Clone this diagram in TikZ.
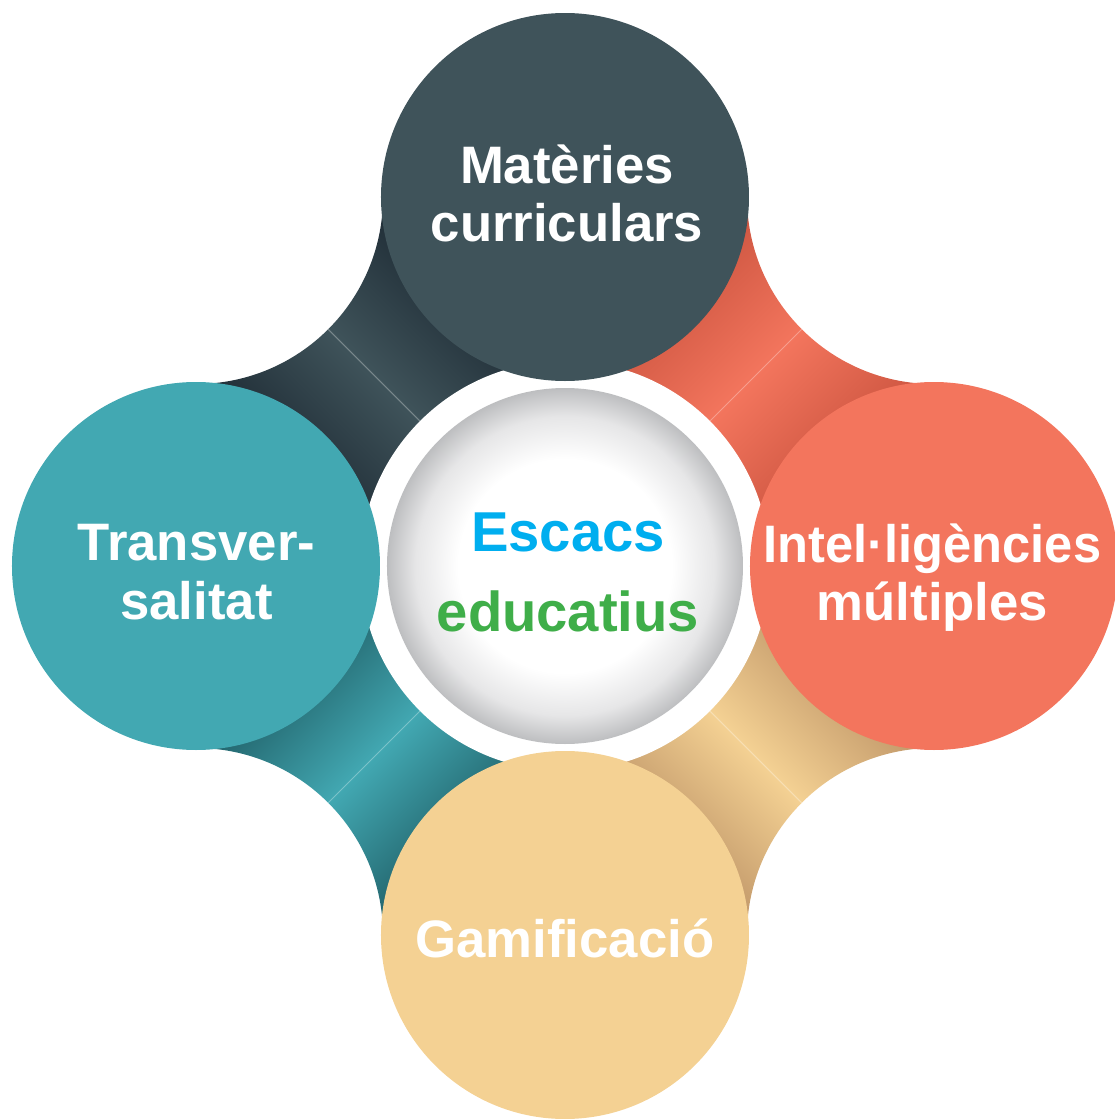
\documentclass[tikz,border=0pt]{standalone}
\usepackage{fontspec}
\setmainfont{Liberation Sans}
\usepackage{xcolor}
\usepackage{graphicx}
\usepackage{tikz}
\usetikzlibrary{calc}
\definecolor{matslate}{HTML}{3F535A}
\definecolor{matdark}{HTML}{223039}
\definecolor{intcoral}{HTML}{F3755D}
\definecolor{intdark}{HTML}{D05843}
\definecolor{gamsand}{HTML}{F4D193}
\definecolor{gamdark}{HTML}{C49B6C}
\definecolor{trateal}{HTML}{42A8B2}
\definecolor{tradark}{HTML}{24676F}
\definecolor{escblue}{HTML}{00AEEF}
\definecolor{escgreen}{HTML}{3FAE49}
\definecolor{ballgrey}{HTML}{BDBEC0}
\definecolor{ballmist}{HTML}{E6E6E7}

\pgfdeclarehorizontalshading{matfold}{100bp}{color(0bp)=(matdark); color(34bp)=(matdark); color(50bp)=(matslate); color(66bp)=(matdark); color(100bp)=(matdark)}
\pgfdeclarehorizontalshading{intfold}{100bp}{color(0bp)=(intdark); color(34bp)=(intdark); color(50bp)=(intcoral); color(66bp)=(intdark); color(100bp)=(intdark)}
\pgfdeclarehorizontalshading{gamfold}{100bp}{color(0bp)=(gamdark); color(34bp)=(gamdark); color(50bp)=(gamsand); color(66bp)=(gamdark); color(100bp)=(gamdark)}
\pgfdeclarehorizontalshading{trafold}{100bp}{color(0bp)=(tradark); color(34bp)=(tradark); color(50bp)=(trateal); color(66bp)=(tradark); color(100bp)=(tradark)}
\pgfdeclareradialshading{ballshade}{\pgfpoint{0bp}{0bp}}{color(0bp)=(white); color(15bp)=(white); color(21bp)=(ballmist); color(25bp)=(ballgrey); color(50bp)=(ballgrey)}

\begin{document}
\begin{tikzpicture}[font=\bfseries]
  \def\d{3.69}
  \def\r{1.87}
  \tikzset{bubble/.style={circle, fill=#1, minimum size=3.68cm, inner sep=0pt},
    caption/.style={text=white, align=center, font=\fontsize{15}{16.6}\selectfont\bfseries},
    crease/.style={#1!70!white, line width=0.3pt}}
  \useasboundingbox (-5.65,-5.53) rectangle (5.50,5.66);
  \coordinate (o) at (0,0);
  % folds between the outer circles
  \shade[shading=matfold, shading angle=45] (0,0) -- (-\d,0) -- (-\d,\d-\r) arc[start angle=270, end angle=360, radius=\r] -- (0,\d) -- cycle;
  \shade[shading=intfold, shading angle=135] (0,0) -- (\d,0) -- (\d,\d-\r) arc[start angle=270, end angle=180, radius=\r] -- (0,\d) -- cycle;
  \shade[shading=gamfold, shading angle=45] (0,0) -- (\d,0) -- (\d,-\d+\r) arc[start angle=90, end angle=180, radius=\r] -- (0,-\d) -- cycle;
  \shade[shading=trafold, shading angle=135] (0,0) -- (-\d,0) -- (-\d,-\d+\r) arc[start angle=90, end angle=0, radius=\r] -- (0,-\d) -- cycle;
  \draw[crease=matslate] ($(-\d,\d)+(-45:\r)$) -- (o);
  \draw[crease=intcoral] ($(\d,\d)+(225:\r)$) -- (o);
  \draw[crease=gamsand] ($(\d,-\d)+(135:\r)$) -- (o);
  \draw[crease=trateal] ($(-\d,-\d)+(45:\r)$) -- (o);
  % white ring round the centre
  \fill[white] (o) circle[radius=2.05];
  % outer circles
  \node[bubble=matslate] (mat) at (0,\d) {};
  \node[bubble=intcoral] (int) at (\d,0) {};
  \node[bubble=gamsand] (gam) at (0,-\d) {};
  \node[bubble=trateal] (tra) at (-\d,0) {};
  \node[circle, shade, shading=ballshade, minimum size=3.56cm, inner sep=0pt] (esc) at (o) {};
  % texts
  \node[caption] (mat-txt) at (0.02,3.725) {Matèries\\curriculars};
  \node[caption] (int-txt) at (3.675,-0.115) {\scalebox{0.96}[1]{Intel·ligències}\\múltiples};
  \node[caption] (gam-txt) at (0,-3.725) {Gamificació};
  \node[caption] (tra-txt) at (-3.685,-0.06) {Transver-\\salitat};
  \node[align=center, font=\fontsize{16}{22.6}\selectfont\bfseries] (esc-txt) at (0.03,-0.065) {\textcolor{escblue}{Escacs}\\\textcolor{escgreen}{educatius}};
\end{tikzpicture}
\end{document}
